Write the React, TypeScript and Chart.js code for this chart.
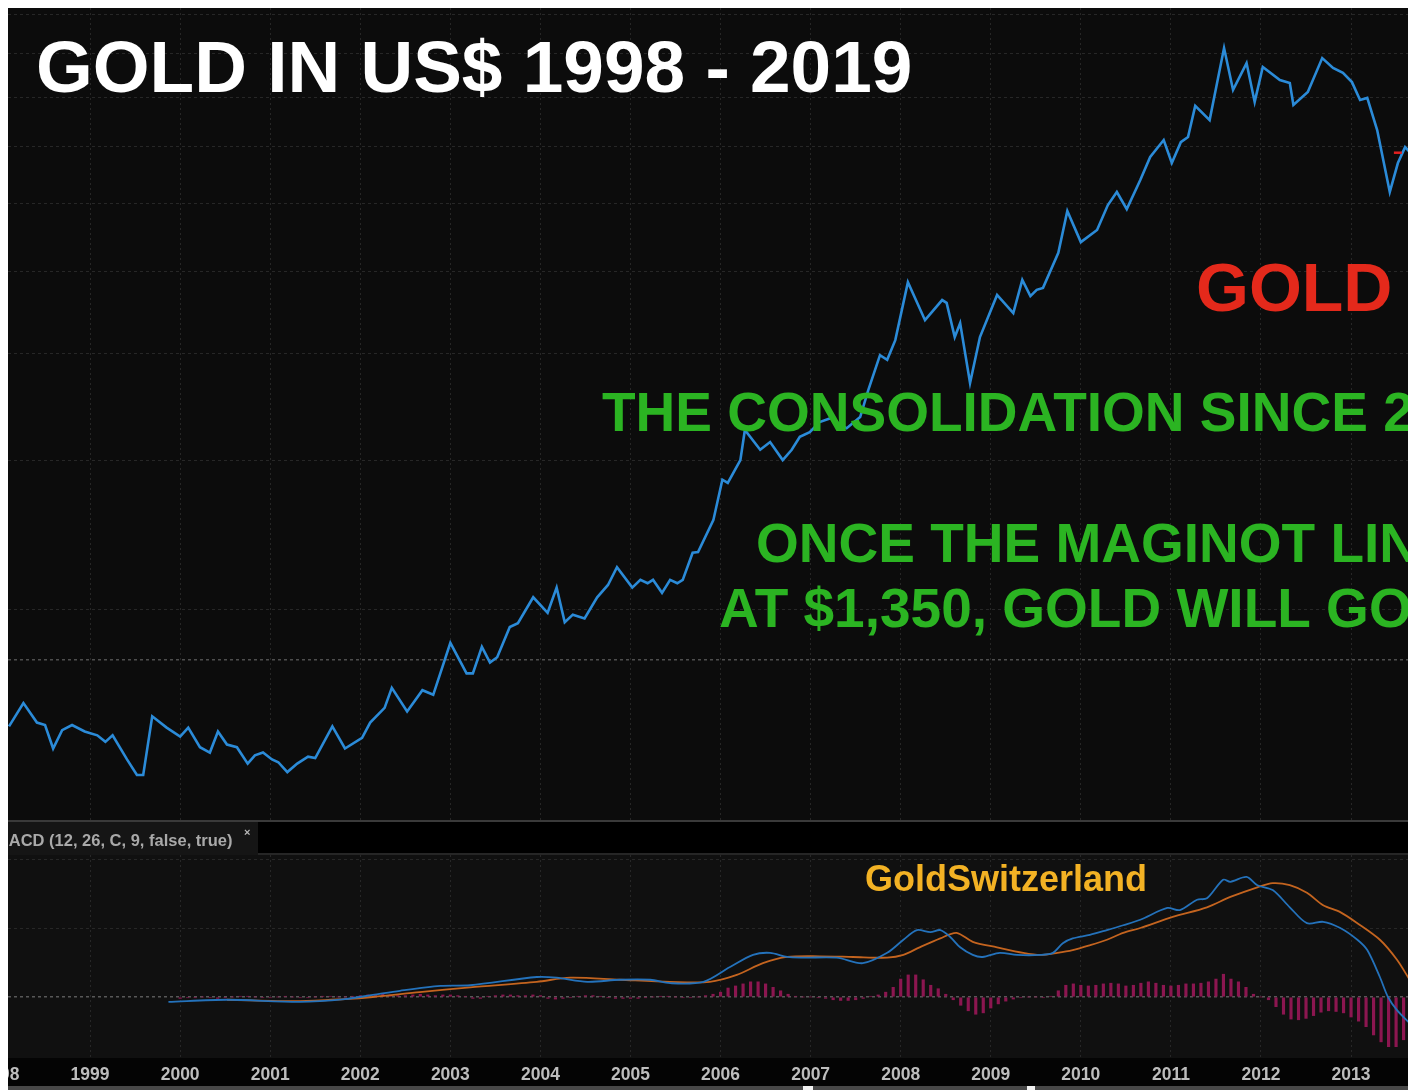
import { useEffect, useRef } from 'react';
import { Chart, registerables } from 'chart.js';

Chart.register(...registerables);

// ---------- data ----------
const yearTicks = [1998, 1999, 2000, 2001, 2002, 2003, 2004, 2005, 2006, 2007, 2008, 2009, 2010, 2011, 2012, 2013, 2014];

const priceDates = [
  1998.10, 1998.26, 1998.41, 1998.50, 1998.59, 1998.69, 1998.80, 1998.94, 1999.08, 1999.17,
  1999.25, 1999.41, 1999.52, 1999.59, 1999.69, 1999.85, 2000.00, 2000.09, 2000.22, 2000.33,
  2000.42, 2000.52, 2000.63, 2000.75, 2000.83, 2000.92, 2001.02, 2001.09, 2001.19, 2001.30,
  2001.42, 2001.50, 2001.69, 2001.83, 2002.02, 2002.11, 2002.27, 2002.35, 2002.52, 2002.69,
  2002.81, 2003.00, 2003.18, 2003.25, 2003.35, 2003.44, 2003.52, 2003.66, 2003.75, 2003.92,
  2004.08, 2004.18, 2004.27, 2004.36, 2004.49, 2004.63, 2004.75, 2004.85, 2005.02, 2005.11,
  2005.19, 2005.25, 2005.35, 2005.44, 2005.52, 2005.58, 2005.69, 2005.75, 2005.92, 2006.02,
  2006.08, 2006.22, 2006.27, 2006.44, 2006.55, 2006.69, 2006.79, 2006.88, 2006.99, 2007.10,
  2007.22, 2007.40, 2007.55, 2007.64, 2007.77, 2007.85, 2007.94, 2008.08, 2008.27, 2008.46,
  2008.51, 2008.60, 2008.66, 2008.77, 2008.88, 2009.07, 2009.25, 2009.35, 2009.44, 2009.51,
  2009.58, 2009.75, 2009.85, 2010.00, 2010.18, 2010.30, 2010.40, 2010.51, 2010.66, 2010.77,
  2010.92, 2011.01, 2011.11, 2011.19, 2011.27, 2011.43, 2011.59, 2011.69, 2011.84, 2011.93,
  2012.02, 2012.21, 2012.32, 2012.36, 2012.52, 2012.68, 2012.80, 2012.91, 2013.01, 2013.10,
  2013.18, 2013.29, 2013.43, 2013.52, 2013.60, 2013.65,
];
const priceValues = [
  292, 311, 295, 293, 275, 289, 293, 288, 285, 280,
  285, 267, 256, 256, 300, 291, 284, 291, 276, 272,
  288, 278, 276, 264, 270, 272, 267, 265, 258, 264,
  269, 268, 292, 275, 283, 295, 307, 324, 304, 322,
  318, 366, 337, 337, 362, 347, 352, 382, 386, 414,
  397, 425, 387, 395, 391, 414, 428, 449, 425, 434,
  430, 434, 419, 434, 430, 434, 467, 468, 510, 569,
  564, 600, 651, 617, 630, 600, 617, 639, 647, 665,
  672, 654, 674, 725, 797, 787, 830, 971, 876, 925,
  918, 837, 869, 739, 837, 938, 893, 977, 935, 951,
  956, 1051, 1177, 1082, 1118, 1196, 1239, 1183, 1280, 1362,
  1426, 1340, 1418, 1438, 1564, 1505, 1829, 1633, 1756, 1581,
  1738, 1677, 1664, 1568, 1624, 1780, 1733, 1710, 1668, 1589,
  1598, 1465, 1239, 1340, 1399, 1381,
];
const priceGridValues = [400, 600, 800, 1000, 1200, 1400, 1600, 1800, 2000];
const priceRefLevel = 350;
const markerDates = [2013.52];
const markerValues = [1378];

const macdDates = [
  1999.87, 2000.52, 2001.33, 2001.83, 2002.14, 2002.44, 2002.89, 2003.22, 2003.96, 2004.18,
  2004.52, 2004.88, 2005.22, 2005.44, 2005.81, 2006.10, 2006.36, 2006.55, 2006.74, 2006.92,
  2007.29, 2007.58, 2007.85, 2008.03, 2008.18, 2008.33, 2008.44, 2008.55, 2008.66, 2008.80,
  2008.91, 2009.10, 2009.29, 2009.55, 2009.69, 2009.80, 2009.91, 2010.10, 2010.29, 2010.47,
  2010.66, 2010.96, 2011.10, 2011.29, 2011.40, 2011.58, 2011.66, 2011.84, 2011.96, 2012.13,
  2012.32, 2012.51, 2012.69, 2012.88, 2013.07, 2013.18, 2013.32, 2013.41, 2013.51, 2013.65,
];
const macdValues = [
  -7, -4, -7, -3, 3, 9, 16, 17, 29, 28,
  22, 25, 25, 20, 22, 43, 61, 64, 58, 57,
  57, 49, 64, 83, 97, 94, 97, 87, 72, 61,
  58, 64, 61, 61, 64, 78, 85, 90, 97, 104,
  112, 129, 126, 141, 143, 170, 167, 174, 162, 155,
  130, 107, 109, 100, 83, 68, 29, 0, -19, -38,
];
const signalDates = [
  2000.52, 2001.33, 2001.83, 2002.14, 2002.66, 2003.22, 2003.96, 2004.33, 2004.88, 2005.44,
  2005.88, 2006.18, 2006.47, 2006.74, 2007.10, 2007.47, 2007.85, 2008.03, 2008.21, 2008.44,
  2008.62, 2008.80, 2009.07, 2009.36, 2009.55, 2009.74, 2009.91, 2010.10, 2010.29, 2010.47,
  2010.66, 2011.02, 2011.40, 2011.66, 2011.96, 2012.13, 2012.32, 2012.51, 2012.69, 2012.88,
  2013.07, 2013.32, 2013.51, 2013.65,
];
const signalValues = [
  -4, -6, -3, 0, 7, 14, 22, 28, 25, 22,
  22, 32, 49, 58, 59, 58, 57, 61, 72, 85,
  93, 80, 72, 64, 61, 64, 68, 75, 83, 93,
  100, 116, 130, 145, 159, 165, 162, 151, 133, 123,
  107, 83, 54, 25,
];
const histStartYear = 2000;
const histValues = [
  -2, -1, -1, 0, -1, -2, -1, 0, 1, 1, 0, -1,
  -1, 0, 1, 0, -1, -1, 0, 1, 1, 0, 0, 1,
  2, 3, 3, 4, 3, 2, 2, 3, 4, 3, 2, 3,
  3, 2, 1, -2, -2, 1, 2, 3, 3, 2, 2, 3,
  2, -2, -3, -2, -1, 1, 2, 2, 1, -1, -2, -2,
  -2, -2, -1, 0, 1, 1, 0, -1, -1, 0, 2, 4,
  7, 13, 16, 19, 22, 22, 19, 14, 9, 4, 1, 0,
  0, -1, -2, -4, -5, -5, -4, -2, 1, 3, 7, 14,
  26, 32, 32, 25, 17, 12, 4, -4, -12, -20, -25, -23,
  -16, -10, -6, -3, -1, 0, 0, -1, 1, 9, 17, 19,
  17, 16, 17, 19, 20, 19, 16, 17, 20, 22, 20, 17,
  16, 17, 19, 19, 20, 22, 26, 33, 26, 22, 14, 4,
  0, -4, -14, -25, -32, -33, -31, -27, -22, -20, -21, -23,
  -29, -35, -43, -55, -65, -72, -72, -62,
];
const macdGridValues = [0, 100, 200];

// ---------- layout ----------
const W = 1520;           // canvas width (wider than the visible frame, clipped)
const SHIFT = 60;         // canvas starts 60px left of the frame
const PAGE_TO_CANVAS_X = SHIFT - 8;
const PX_PER_YEAR = 90.07;
const X_MIN = 1998 - PAGE_TO_CANVAS_X / PX_PER_YEAR;
const X_MAX = 1998 + (W - PAGE_TO_CANVAS_X) / PX_PER_YEAR;
const PRICE_H = 812;
const MACD_H = 270;
const PX_PER_LN = 369.69;
const PRICE_MAX = 2000 * Math.exp(7 / PX_PER_LN);
const PRICE_MIN = 2000 * Math.exp(-(PRICE_H - 7) / PX_PER_LN);
const MACD_TOP_PAD = 35;
const MACD_AXIS_H = 32;
const MACD_MAX = 142 / 0.69;
const MACD_MIN = -61 / 0.69;

const SANS = "'Liberation Sans', Arial, Helvetica, sans-serif";
const GRID = '#272727';

const px = (pageX: number) => pageX + PAGE_TO_CANVAS_X;

const priceDecor = {
  id: 'priceDecor',
  beforeDraw(chart: any) {
    const { ctx, width, height } = chart;
    ctx.save();
    ctx.fillStyle = '#0c0c0c';
    ctx.fillRect(0, 0, width, height);
    ctx.restore();
  },
  afterDatasetsDraw(chart: any) {
    const { ctx } = chart;
    const py = (pageY: number) => pageY - 8;
    ctx.save();
    ctx.textAlign = 'left';
    ctx.textBaseline = 'alphabetic';
    ctx.fillStyle = '#ffffff';
    ctx.font = `bold 73px ${SANS}`;
    ctx.fillText('GOLD IN US$ 1998 - 2019', px(36), py(92));
    ctx.fillStyle = '#e4291b';
    ctx.font = `bold 68px ${SANS}`;
    ctx.fillText('GOLD', px(1196), py(311));
    ctx.fillStyle = '#2bb422';
    ctx.font = `bold 55px ${SANS}`;
    ctx.fillText('THE CONSOLIDATION SINCE 2', px(602), py(431));
    ctx.fillText('ONCE THE MAGINOT LINE', px(756), py(562));
    ctx.fillText('AT $1,350, GOLD WILL GO', px(719), py(627));
    ctx.restore();
  },
};

const macdDecor = {
  id: 'macdDecor',
  beforeDraw(chart: any) {
    const { ctx, width, height } = chart;
    ctx.save();
    ctx.fillStyle = '#101010';
    ctx.fillRect(0, 0, width, height);
    // separator + header strip
    ctx.fillStyle = '#3a3a3a';
    ctx.fillRect(0, 0, width, 2);
    ctx.fillStyle = '#151515';
    ctx.fillRect(0, 2, px(258), 33);
    ctx.fillStyle = '#000000';
    ctx.fillRect(px(258), 2, width - px(258), 31);
    ctx.fillStyle = '#262626';
    ctx.fillRect(px(258), 33, width - px(258), 2);
    // bottom axis strip
    ctx.fillStyle = '#040404';
    ctx.fillRect(0, height - MACD_AXIS_H, width, MACD_AXIS_H - 4);
    ctx.fillStyle = '#484848';
    ctx.fillRect(0, height - 4, width, 4);
    ctx.fillStyle = '#f2f2f2';
    ctx.fillRect(px(803), height - 4, 10, 4);
    ctx.fillRect(px(1027), height - 4, 8, 4);
    ctx.restore();
  },
  afterDraw(chart: any) {
    const { ctx } = chart;
    const py = (pageY: number) => pageY - 820;
    ctx.save();
    ctx.textAlign = 'left';
    ctx.textBaseline = 'alphabetic';
    ctx.fillStyle = '#a9a9a9';
    ctx.font = `bold 16.5px ${SANS}`;
    ctx.fillText('MACD (12, 26, C, 9, false, true)', px(-5), py(846));
    ctx.font = `bold 11px ${SANS}`;
    ctx.fillStyle = '#bbbbbb';
    ctx.fillText('×', px(244), py(836));
    ctx.fillStyle = '#f3b224';
    ctx.font = `bold 36px ${SANS}`;
    ctx.fillText('GoldSwitzerland', px(865), py(891));
    ctx.restore();
  },
};

const xScaleBase = {
  type: 'linear' as const,
  min: X_MIN,
  max: X_MAX,
  offset: false,
  afterBuildTicks: (s: any) => {
    s.ticks = yearTicks.map((v) => ({ value: v }));
  },
  grid: { color: GRID, drawTicks: false, offset: false, lineWidth: 1 },
  border: { display: false, dash: [2, 3] },
};

export default function App() {
  const priceRef = useRef<HTMLCanvasElement>(null);
  const macdRef = useRef<HTMLCanvasElement>(null);

  useEffect(() => {
    const priceChart = new Chart(priceRef.current as HTMLCanvasElement, {
      type: 'line',
      data: {
        datasets: [
          {
            label: 'Gold',
            data: priceDates.map((d, i) => ({ x: d, y: priceValues[i] })),
            borderColor: '#2b8bd8',
            borderWidth: 2.6,
            pointRadius: 0,
            tension: 0,
            order: 2,
          },
          {
            label: 'Last',
            data: markerDates.map((d, i) => ({ x: d, y: markerValues[i] })),
            borderColor: '#e02020',
            backgroundColor: '#e02020',
            showLine: false,
            pointStyle: 'line',
            pointRadius: 4,
            pointBorderWidth: 2.5,
            order: 1,
          },
        ],
      },
      options: {
        animation: false,
        responsive: false,
        devicePixelRatio: 1,
        events: [],
        layout: { padding: 0, autoPadding: false },
        plugins: { legend: { display: false }, tooltip: { enabled: false } },
        scales: {
          x: {
            ...xScaleBase,
            ticks: { display: false },
            afterFit: (s: any) => { s.height = 0; },
          },
          y: {
            type: 'logarithmic',
            min: PRICE_MIN,
            max: PRICE_MAX,
            afterBuildTicks: (s: any) => {
              s.ticks = [priceRefLevel, ...priceGridValues].map((v) => ({ value: v }));
            },
            ticks: { display: false },
            grid: {
              drawTicks: false,
              color: (c: any) => (c.tick && c.tick.value === priceRefLevel ? '#4e4e4e' : GRID),
              lineWidth: (c: any) => (c.tick && c.tick.value === priceRefLevel ? 1.5 : 1),
            },
            border: { display: false, dash: [3, 3] },
            afterFit: (s: any) => { s.width = 0; },
          },
        },
      } as any,
      plugins: [priceDecor],
    });

    const macdChart = new Chart(macdRef.current as HTMLCanvasElement, {
      type: 'bar',
      data: {
        datasets: [
          {
            type: 'line',
            label: 'MACD',
            data: macdDates.map((d, i) => ({ x: d, y: macdValues[i] })),
            borderColor: '#2472bb',
            borderWidth: 1.8,
            pointRadius: 0,
            tension: 0.3,
            order: 1,
          },
          {
            type: 'line',
            label: 'Signal',
            data: signalDates.map((d, i) => ({ x: d, y: signalValues[i] })),
            borderColor: '#c4641f',
            borderWidth: 1.8,
            pointRadius: 0,
            tension: 0.3,
            order: 2,
          },
          {
            type: 'bar',
            label: 'Diff',
            data: histValues.map((v, i) => ({ x: histStartYear + i / 12, y: v })),
            backgroundColor: '#8c1650',
            barThickness: 2.5,
            grouped: false,
            order: 3,
          },
        ],
      },
      options: {
        animation: false,
        responsive: false,
        devicePixelRatio: 1,
        events: [],
        layout: { padding: { top: MACD_TOP_PAD, left: 0, right: 0, bottom: 0 }, autoPadding: false },
        plugins: { legend: { display: false }, tooltip: { enabled: false } },
        scales: {
          x: {
            ...xScaleBase,
            ticks: {
              display: true,
              autoSkip: false,
              maxRotation: 0,
              minRotation: 0,
              padding: 7,
              color: '#bdbdbd',
              font: { family: SANS, size: 17.5, weight: 'bold' },
              callback: (v: any) => String(v),
            },
            afterFit: (s: any) => { s.height = MACD_AXIS_H; },
          },
          y: {
            type: 'linear',
            min: MACD_MIN,
            max: MACD_MAX,
            afterBuildTicks: (s: any) => {
              s.ticks = macdGridValues.map((v) => ({ value: v }));
            },
            ticks: { display: false },
            grid: {
              drawTicks: false,
              color: (c: any) => (c.tick && c.tick.value === 0 ? '#585858' : GRID),
              lineWidth: (c: any) => (c.tick && c.tick.value === 0 ? 1.5 : 1),
            },
            border: { display: false, dash: [3, 3] },
            afterFit: (s: any) => { s.width = 0; },
          },
        },
      } as any,
      plugins: [macdDecor],
    });

    return () => {
      priceChart.destroy();
      macdChart.destroy();
    };
  }, []);

  return (
    <div
      style={{
        position: 'fixed',
        left: 8,
        top: 8,
        width: 1400,
        height: 1082,
        overflow: 'hidden',
        background: '#0c0c0c',
      }}
    >
      <canvas
        ref={priceRef}
        width={W}
        height={PRICE_H}
        style={{ position: 'absolute', left: -SHIFT, top: 0, width: W, height: PRICE_H }}
      />
      <canvas
        ref={macdRef}
        width={W}
        height={MACD_H}
        style={{ position: 'absolute', left: -SHIFT, top: PRICE_H, width: W, height: MACD_H }}
      />
    </div>
  );
}
